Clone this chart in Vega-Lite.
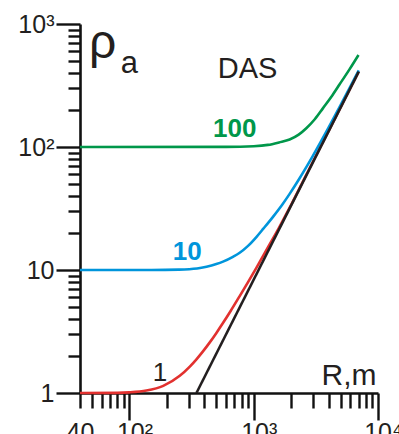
{
  "$schema": "https://vega.github.io/schema/vega-lite/v6.json",
  "width": 298,
  "height": 369,
  "autosize": {"type": "none"},
  "padding": {"left": 80, "top": 24, "right": 21, "bottom": 41},
  "background": "white",
  "config": {"view": {"stroke": null}, "font": "Liberation Sans"},
  "datasets": {
    "curves": [
      {"curve": "1", "R": 40, "rho": 1.0},
      {"curve": "1", "R": 80, "rho": 1.003},
      {"curve": "1", "R": 100, "rho": 1.012},
      {"curve": "1", "R": 137, "rho": 1.047},
      {"curve": "1", "R": 187, "rho": 1.143},
      {"curve": "1", "R": 254, "rho": 1.38},
      {"curve": "1", "R": 306, "rho": 1.64},
      {"curve": "1", "R": 346, "rho": 1.88},
      {"curve": "1", "R": 389, "rho": 2.17},
      {"curve": "1", "R": 443, "rho": 2.58},
      {"curve": "1", "R": 501, "rho": 3.08},
      {"curve": "1", "R": 567, "rho": 3.72},
      {"curve": "1", "R": 650, "rho": 4.62},
      {"curve": "1", "R": 771, "rho": 6.14},
      {"curve": "1", "R": 900, "rho": 7.98},
      {"curve": "1", "R": 1050, "rho": 10.42},
      {"curve": "1", "R": 1300, "rho": 15.24},
      {"curve": "1", "R": 1600, "rho": 22.1},
      {"curve": "1", "R": 2000, "rho": 33.9},
      {"curve": "1", "R": 3000, "rho": 76.2},
      {"curve": "1", "R": 5000, "rho": 209.8},
      {"curve": "1", "R": 7000, "rho": 410},
      {"curve": "10", "R": 40, "rho": 10},
      {"curve": "10", "R": 150, "rho": 10},
      {"curve": "10", "R": 250, "rho": 10.07},
      {"curve": "10", "R": 350, "rho": 10.28},
      {"curve": "10", "R": 417, "rho": 10.62},
      {"curve": "10", "R": 500, "rho": 11.17},
      {"curve": "10", "R": 566, "rho": 11.69},
      {"curve": "10", "R": 680, "rho": 12.79},
      {"curve": "10", "R": 771, "rho": 13.8},
      {"curve": "10", "R": 900, "rho": 15.7},
      {"curve": "10", "R": 1050, "rho": 18.53},
      {"curve": "10", "R": 1200, "rho": 21.78},
      {"curve": "10", "R": 1429, "rho": 27.06},
      {"curve": "10", "R": 1700, "rho": 34.1},
      {"curve": "10", "R": 1945, "rho": 41.6},
      {"curve": "10", "R": 2300, "rho": 54.2},
      {"curve": "10", "R": 2649, "rho": 68.6},
      {"curve": "10", "R": 3000, "rho": 85.2},
      {"curve": "10", "R": 3494, "rho": 112},
      {"curve": "10", "R": 4000, "rho": 143.6},
      {"curve": "10", "R": 5000, "rho": 218.8},
      {"curve": "10", "R": 6000, "rho": 310.7},
      {"curve": "10", "R": 7000, "rho": 419.3},
      {"curve": "100", "R": 40, "rho": 100},
      {"curve": "100", "R": 600, "rho": 100.3},
      {"curve": "100", "R": 1000, "rho": 101.5},
      {"curve": "100", "R": 1300, "rho": 104},
      {"curve": "100", "R": 1600, "rho": 109},
      {"curve": "100", "R": 1945, "rho": 115},
      {"curve": "100", "R": 2300, "rho": 126},
      {"curve": "100", "R": 2649, "rho": 142},
      {"curve": "100", "R": 3100, "rho": 168},
      {"curve": "100", "R": 3600, "rho": 206},
      {"curve": "100", "R": 4200, "rho": 255},
      {"curve": "100", "R": 4898, "rho": 322},
      {"curve": "100", "R": 5897, "rho": 428},
      {"curve": "100", "R": 6970, "rho": 560},
      {"curve": "asym", "R": 346, "rho": 1},
      {"curve": "asym", "R": 7000, "rho": 410}
    ],
    "labels": [
      {"label": "ρ", "R": 47.2, "rho": 529},
      {"label": "a", "R": 85.3, "rho": 400},
      {"label": "DAS", "R": 513, "rho": 364},
      {"label": "100", "R": 703, "rho": 120.6},
      {"label": "10", "R": 292, "rho": 12.06},
      {"label": "1", "R": 176, "rho": 1.259},
      {"label": "R,m", "R": 9730, "rho": 1.16}
    ]
  },
  "encoding": {
    "x": {
      "field": "R", "type": "quantitative",
      "scale": {"type": "log", "domain": [40, 10000], "nice": false},
      "axis": {
        "title": null,
        "orient": "bottom",
        "values": [40, 50, 60, 70, 80, 90, 100, 200, 300, 400, 500, 600, 700, 800, 900, 1000, 2000, 3000, 4000, 5000, 6000, 7000, 8000, 9000, 10000],
        "labelExpr": "datum.value == 40 ? '40' : datum.value == 100 ? '10²' : datum.value == 1000 ? '10³' : datum.value == 10000 ? '10⁴' : ''",
        "tickSize": {"condition": {"test": "indexof([100,1000,10000], datum.value) >= 0", "value": 27}, "value": 15},
        "labelPadding": {"condition": {"test": "indexof([100,1000,10000], datum.value) >= 0", "value": 0}, "value": 12},
        "labelOffset": {"condition": {"test": "indexof([100,1000,10000], datum.value) >= 0", "value": 5}, "value": 0},
        "labelFontSize": 25,
        "labelFont": "Liberation Sans",
        "labelColor": "#231f20",
        "labelBaseline": "top",
        "labelOverlap": false,
        "labelBound": false,
        "labelFlush": false,
        "domainColor": "#111111",
        "domainWidth": 2.6,
        "tickColor": "#111111",
        "tickWidth": 2.4,
        "grid": false
      }
    },
    "y": {
      "field": "rho", "type": "quantitative",
      "scale": {"type": "log", "domain": [1, 1000], "nice": false},
      "axis": {
        "title": null,
        "orient": "left",
        "values": [1, 2, 3, 4, 5, 6, 7, 8, 9, 10, 20, 30, 40, 50, 60, 70, 80, 90, 100, 200, 300, 400, 500, 600, 700, 800, 900, 1000],
        "labelExpr": "datum.value == 1000 ? '10³' : datum.value == 100 ? '10²' : datum.value == 10 ? '10' : datum.value == 1 ? '1' : ''",
        "tickSize": {"condition": {"test": "indexof([1,10,100,1000], datum.value) >= 0", "value": 24}, "value": 12},
        "labelPadding": 2,
        "labelFontSize": 25,
        "labelFont": "Liberation Sans",
        "labelColor": "#231f20",
        "labelOverlap": false,
        "labelBound": false,
        "labelFlush": false,
        "domainColor": "#111111",
        "domainWidth": 2.6,
        "tickColor": "#111111",
        "tickWidth": 2.4,
        "grid": false
      }
    }
  },
  "layer": [
    {
      "data": {"name": "curves"},
      "transform": [{"filter": "datum.curve != 'asym'"}],
      "mark": {"type": "line", "strokeWidth": 2.6, "interpolate": "monotone"},
      "encoding": {
        "color": {"field": "curve", "type": "nominal", "legend": null,
          "scale": {"domain": ["1", "10", "100"], "range": ["#e2312f", "#0095db", "#00974a"]}}
      }
    },
    {
      "data": {"name": "curves"},
      "transform": [{"filter": "datum.curve == 'asym'"}],
      "mark": {"type": "line", "strokeWidth": 2.6, "color": "#231f20"},
      "encoding": {}
    },
    {
      "data": {"name": "labels"},
      "transform": [{"filter": "datum.label == 'ρ'"}],
      "mark": {"type": "text", "fontSize": 48, "align": "left", "baseline": "alphabetic", "color": "#231f20", "font": "Liberation Sans"},
      "encoding": {"text": {"field": "label"}}
    },
    {
      "data": {"name": "labels"},
      "transform": [{"filter": "datum.label == 'a'"}],
      "mark": {"type": "text", "fontSize": 31, "align": "left", "baseline": "alphabetic", "color": "#231f20", "font": "Liberation Sans"},
      "encoding": {"text": {"field": "label"}}
    },
    {
      "data": {"name": "labels"},
      "transform": [{"filter": "datum.label == 'DAS'"}],
      "mark": {"type": "text", "fontSize": 29, "align": "left", "baseline": "alphabetic", "color": "#231f20", "font": "Liberation Sans"},
      "encoding": {"text": {"field": "label"}}
    },
    {
      "data": {"name": "labels"},
      "transform": [{"filter": "datum.label == '1'"}],
      "mark": {"type": "text", "fontSize": 26, "align": "center", "baseline": "alphabetic", "color": "#231f20", "font": "Liberation Sans"},
      "encoding": {"text": {"field": "label"}}
    },
    {
      "data": {"name": "labels"},
      "transform": [{"filter": "datum.label == 'R,m'"}],
      "mark": {"type": "text", "fontSize": 30, "align": "right", "baseline": "alphabetic", "color": "#231f20", "font": "Liberation Sans"},
      "encoding": {"text": {"field": "label"}}
    },
    {
      "data": {"name": "labels"},
      "transform": [{"filter": "datum.label == '100'"}],
      "mark": {"type": "text", "fontSize": 26, "fontWeight": "bold", "align": "center", "baseline": "alphabetic", "color": "#00974a", "font": "Liberation Sans"},
      "encoding": {"text": {"field": "label"}}
    },
    {
      "data": {"name": "labels"},
      "transform": [{"filter": "datum.label == '10'"}],
      "mark": {"type": "text", "fontSize": 26, "fontWeight": "bold", "align": "center", "baseline": "alphabetic", "color": "#0095db", "font": "Liberation Sans"},
      "encoding": {"text": {"field": "label"}}
    }
  ]
}
